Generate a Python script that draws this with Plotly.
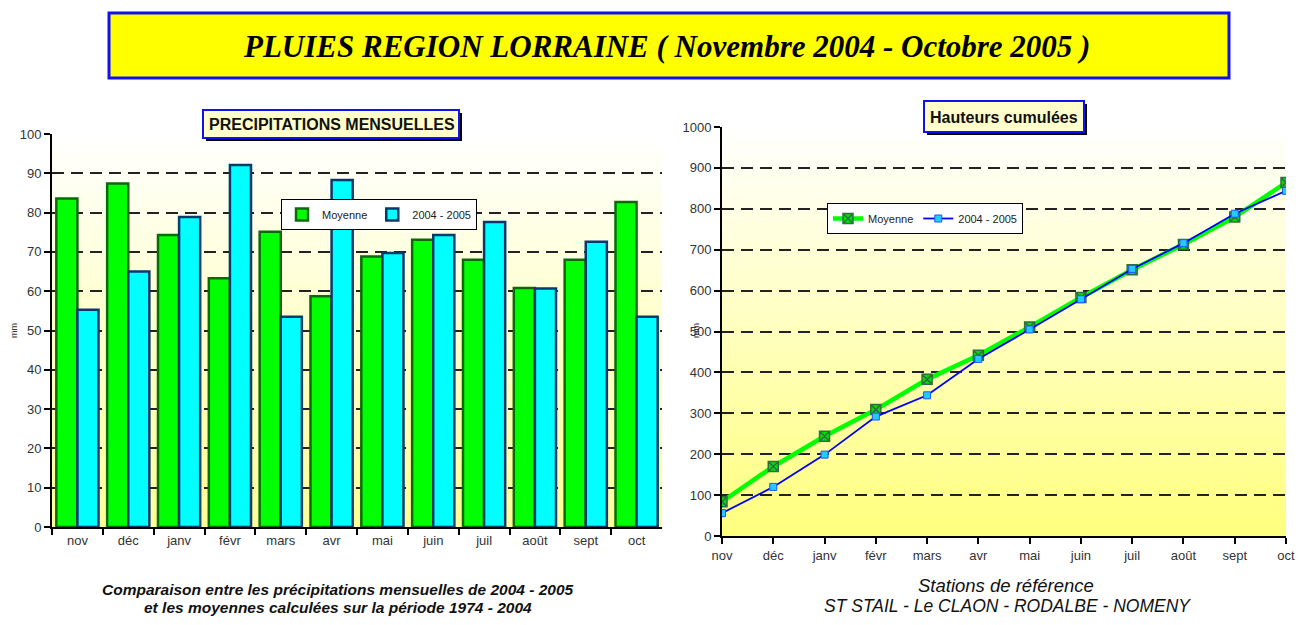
import plotly.graph_objects as go

# ---------------- data ----------------
months = ["nov", "déc", "janv", "févr", "mars", "avr", "mai", "juin", "juil", "août", "sept", "oct"]

moyenne_mensuelle = [83.6, 87.4, 74.3, 63.3, 75.1, 58.7, 68.8, 73.1, 68.0, 60.8, 68.0, 82.7]
pluie_2004_2005 = [55.3, 65.0, 78.9, 92.1, 53.5, 88.3, 69.7, 74.3, 77.6, 60.7, 72.6, 53.5]

moyenne_cumulee = [84, 170, 244, 309, 383, 442, 511, 583, 651, 713, 780, 864]
cumul_2004_2005 = [56, 120, 199, 292, 344, 433, 505, 579, 653, 716, 788, 844]

# the page body has an 8px margin: size the figure so it fits the window
OFF = 8
W, H = 1308 - 2 * OFF, 625 - 2 * OFF

def px(x):
    return (x - OFF) / W

def py(y):
    return 1 - (y - OFF) / H

fig = go.Figure()

# ---------------- left chart: monthly bars ----------------
fig.add_trace(go.Bar(
    x=months, y=moyenne_mensuelle, name="Moyenne",
    marker=dict(color="#00FF00", line=dict(color="#0B6B0B", width=2.5)),
    xaxis="x", yaxis="y", legend="legend",
))
fig.add_trace(go.Bar(
    x=months, y=pluie_2004_2005, name="2004 - 2005",
    marker=dict(color="#00FFFF", line=dict(color="#0A3A6A", width=2.5)),
    xaxis="x", yaxis="y", legend="legend",
))

# ---------------- right chart: cumulative lines ----------------
fig.add_trace(go.Scatter(
    x=months, y=moyenne_cumulee, name="Moyenne", mode="lines+markers",
    line=dict(color="#00FF00", width=4.5),
    marker=dict(symbol="square-x", size=10, color="#00E000",
                line=dict(color="#2F6F3F", width=1.5)),
    xaxis="x2", yaxis="y2", legend="legend2",
))
fig.add_trace(go.Scatter(
    x=months, y=cumul_2004_2005, name="2004 - 2005", mode="lines+markers",
    line=dict(color="#0000FF", width=1.8),
    marker=dict(symbol="square", size=7, color="#22CCFF",
                line=dict(color="#2255FF", width=1)),
    xaxis="x2", yaxis="y2", legend="legend2",
))

shapes = []

# gradient backgrounds of the plot areas
def gradient(xref, yref, bottom_rgb, n=40):
    for i in range(n):
        t = (i + 0.5) / n  # 0 at bottom, 1 at top
        r = round(bottom_rgb[0] + (255 - bottom_rgb[0]) * t)
        g = round(bottom_rgb[1] + (255 - bottom_rgb[1]) * t)
        b = round(bottom_rgb[2] + (255 - bottom_rgb[2]) * t)
        shapes.append(dict(type="rect", xref=xref, yref=yref,
                           x0=0, x1=1, y0=i / n, y1=(i + 1) / n + 0.002,
                           fillcolor=f"rgb({r},{g},{b})", line=dict(width=0),
                           layer="below"))

gradient("x domain", "y domain", (255, 255, 150))
gradient("x2 domain", "y2 domain", (255, 255, 125))

# main title box
shapes.append(dict(type="rect", xref="paper", yref="paper",
                   x0=px(109), x1=px(1229), y0=py(78), y1=py(13),
                   fillcolor="#FFFF00", line=dict(color="#1010F0", width=3)))

# sub-title boxes with shadow
def box(x0, y0, x1, y1):
    shapes.append(dict(type="rect", xref="paper", yref="paper",
                       x0=px(x0 + 3), x1=px(x1 + 3), y0=py(y1 + 3), y1=py(y0 + 3),
                       fillcolor="#000000", line=dict(width=0)))
    shapes.append(dict(type="rect", xref="paper", yref="paper",
                       x0=px(x0), x1=px(x1), y0=py(y1), y1=py(y0),
                       fillcolor="#FFFFCC", line=dict(color="#1010F0", width=2)))

box(203, 110, 459, 138)
box(924, 101, 1084, 132)

def note(text, x, y, size, family="Liberation Sans", angle=0, color="#111111"):
    return dict(text=text, x=px(x), y=py(y), xref="paper", yref="paper",
                showarrow=False, xanchor="center", yanchor="middle",
                textangle=angle, font=dict(family=family, size=size, color=color))

annotations = [
    note("<b><i>PLUIES REGION LORRAINE ( Novembre 2004 - Octobre 2005 )</i></b>",
         666, 46, 31, family="Liberation Serif", color="#000000"),
    note("<b>PRECIPITATIONS MENSUELLES</b>", 332, 125, 16),
    note("<b>Hauteurs cumulées</b>", 1004, 117, 16),
    note("mm", 14, 331, 9, angle=-90, color="#333333"),
    note("mm", 696, 331, 9, angle=-90, color="#333333"),
    note("<b><i>Comparaison entre les précipitations mensuelles de 2004 - 2005</i></b>",
         338, 589, 15.5),
    note("<b><i>et les moyennes calculées sur la période 1974 - 2004</i></b>",
         338, 607, 15.5),
    note("<i>Stations de référence</i>", 1006, 585, 18.5),
    note("<i>ST STAIL - Le CLAON - RODALBE - NOMENY</i>", 1007, 606, 17.5),
]

tickfont = dict(family="Liberation Sans", size=13, color="#333333")
grid = dict(showgrid=True, gridcolor="#222222", gridwidth=2, griddash="12px,7px")

fig.update_layout(
    width=W, height=H,
    margin=dict(l=0, r=0, t=0, b=0, pad=0, autoexpand=False),
    paper_bgcolor="#FFFFFF",
    plot_bgcolor="rgba(0,0,0,0)",
    barmode="group", bargap=0.17, bargroupgap=0.0,
    xaxis=dict(domain=[px(52), px(662)], type="category",
               showline=True, linecolor="#000000", linewidth=2,
               ticks="outside", tickson="boundaries", ticklen=6,
               tickcolor="#000000", tickwidth=2, tickfont=tickfont,
               showgrid=False, anchor="y", automargin=False),
    yaxis=dict(domain=[py(527), py(134)], range=[0, 100], dtick=10,
               showline=True, linecolor="#000000", linewidth=2,
               ticks="outside", ticklen=6, tickcolor="#000000", tickwidth=2,
               tickfont=tickfont, zeroline=False, anchor="x", automargin=False, **grid),
    xaxis2=dict(domain=[px(722), px(1286)], type="category", range=[0, 11],
                showline=True, linecolor="#000000", linewidth=2,
                ticks="outside", ticklen=6, tickcolor="#000000", tickwidth=2,
                tickfont=tickfont, showgrid=False, anchor="y2", automargin=False),
    yaxis2=dict(domain=[py(536), py(127)], range=[0, 1000], dtick=100,
                showline=True, linecolor="#000000", linewidth=2,
                ticks="outside", ticklen=6, tickcolor="#000000", tickwidth=2,
                tickfont=tickfont, zeroline=False, anchor="x2", automargin=False, **grid),
    legend=dict(orientation="h", x=px(281), y=py(199), xanchor="left", yanchor="top",
                bgcolor="#FFFFFF", bordercolor="#000000", borderwidth=1,
                font=dict(family="Liberation Sans", size=11, color="#222222"),
                itemwidth=30, tracegroupgap=0),
    legend2=dict(orientation="h", x=px(827), y=py(203), xanchor="left", yanchor="top",
                 bgcolor="#FFFFFF", bordercolor="#000000", borderwidth=1,
                 font=dict(family="Liberation Sans", size=11, color="#222222"),
                 itemwidth=30, tracegroupgap=0),
    shapes=shapes,
    annotations=annotations,
    showlegend=True,
)

fig.write_html("out.html")
